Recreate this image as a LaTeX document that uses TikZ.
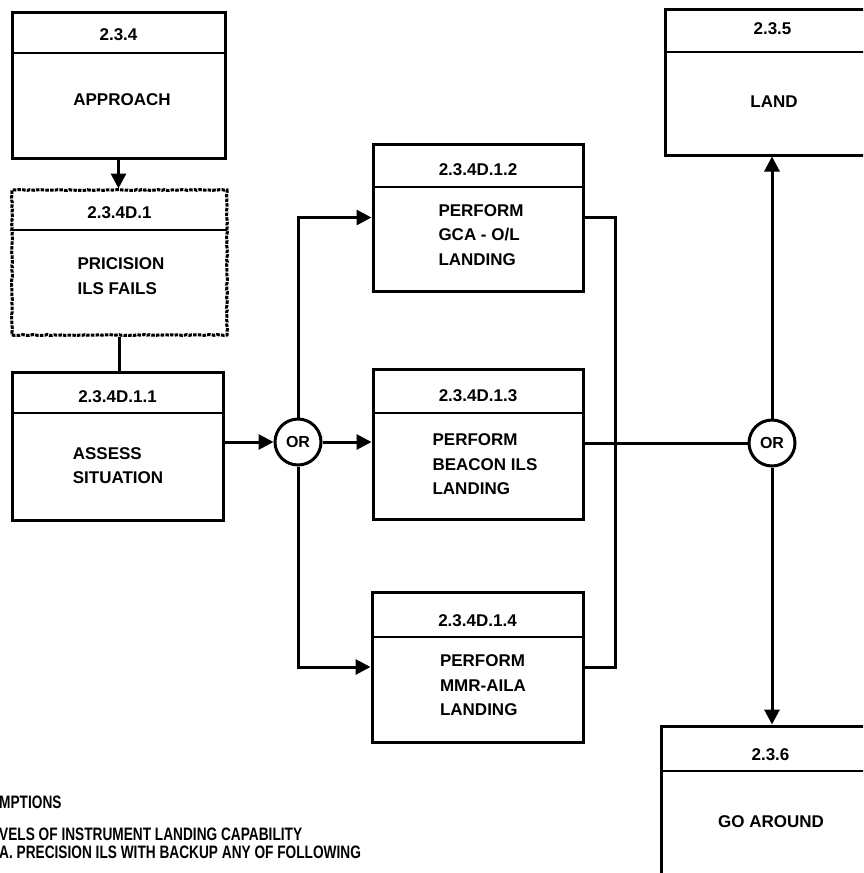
\documentclass[tikz,border=0pt]{standalone}
\usepackage{fontspec}
\setmainfont{Liberation Sans}
\newfontfamily\notefont{Liberation Sans}[FakeStretch=0.76]
\usetikzlibrary{arrows.meta,decorations.pathmorphing,calc}

\tikzset{
  box/.style={draw, line width=3pt, rectangle, inner sep=0pt},
  rough/.style={dash pattern=on 3.5pt off 1.2pt, decorate,
    decoration={random steps, segment length=2.5pt, amplitude=0.5pt}},
  divider/.style={line width=2.5pt},
  hdr/.style={font=\fontsize{17}{20}\selectfont\bfseries, inner sep=0pt},
  body/.style={font=\fontsize{17}{24.5}\selectfont\bfseries, align=left, inner sep=0pt},
  conn/.style={line width=3pt},
  flow/.style={conn, -{Triangle[length=15pt,width=15pt]}},
  orgate/.style={circle, draw, fill=white, line width=3pt, minimum size=46pt,
    inner sep=0pt, font=\fontsize{16}{16}\selectfont\bfseries},
  note/.style={font=\notefont\fontsize{18}{20}\selectfont\bfseries,
    anchor=base west, inner sep=0pt}
}

% \procbox[options]{name}{left}{top}{right}{bottom}{divider y}{label y}{label}
\newcommand\procbox[9][]{%
  \node[box,#1,minimum width={(#5-#3)*1pt},minimum height={(#6-#4)*1pt}]
    (#2) at ({(#3+#5)/2},{(#4+#6)/2}) {};
  \draw[divider] (#3,#7) -- (#5,#7);
  \node[hdr] (#2-id) at ({(#3+#5)/2},#8) {#9};
}

\begin{document}
\begin{tikzpicture}[x=1pt,y=-1pt]
  \fill[white] (0,0) rectangle (863,873);
  \clip (0,0) rectangle (863,873);

  % process boxes
  \procbox{A}{12}{12}{225}{158}{53}{35}{2.3.4}
  \node[body] (A-txt) at (122,100) {APPROACH};

  \procbox[rough]{B}{12}{190}{227}{335}{230}{213}{2.3.4D.1}
  \node[body] (B-txt) at (121,276) {PRICISION\\ILS FAILS};

  \procbox{C}{12}{372}{223}{520}{413}{397}{2.3.4D.1.1}
  \node[body] (C-txt) at (118,465.5) {ASSESS\\SITUATION};

  \procbox{D}{373}{144}{583}{291}{187}{170}{2.3.4D.1.2}
  \node[body] (D-txt) at (481,235) {PERFORM\\GCA - O/L\\LANDING};

  \procbox{E}{373}{369}{583}{519}{413}{396}{2.3.4D.1.3}
  \node[body] (E-txt) at (485,464.5) {PERFORM\\BEACON ILS\\LANDING};

  \procbox{F}{372}{592}{583}{742}{637}{620.5}{2.3.4D.1.4}
  \node[body] (F-txt) at (483,685.5) {PERFORM\\MMR-AILA\\LANDING};

  \procbox{G}{665}{9}{880}{155}{52}{29}{2.3.5}
  \node[body] (G-txt) at (774,102) {LAND};

  \procbox{H}{661}{726}{880}{920}{771}{755}{2.3.6}
  \node[body] (H-txt) at (771,822) {GO AROUND};

  % decision points
  \node[orgate] (or1) at (298,442) {OR};
  \node[orgate] (or2) at (772,443) {OR};
  \coordinate (rail) at (615,443);

  % connectors
  \draw[flow] (A.south) -- (A.south |- B.north);
  \draw[conn] (B.south) -- (B.south |- C.north);
  \draw[flow] (C.east |- or1.west) -- (or1.west);
  \draw[flow] (or1.north) |- (D.west);
  \draw[flow] (or1.east) -- (or1.east -| E.west);
  \draw[flow] (or1.south) |- (F.west);
  \draw[conn] (D.east) -| (rail) |- (F.east);
  \draw[conn] (E.east |- or2.west) -- (or2.west);
  \draw[flow] (or2.north) -- (or2.north |- G.south);
  \draw[flow] (or2.south) -- (or2.south |- H.north);

  % notes
  \node[note] (n1) at (-1,808) {MPTIONS};
  \node[note] (n2) at (-1,840) {VELS OF INSTRUMENT LANDING CAPABILITY};
  \node[note] (n3) at (-1,858) {A. PRECISION ILS WITH BACKUP ANY OF FOLLOWING};
\end{tikzpicture}
\end{document}
